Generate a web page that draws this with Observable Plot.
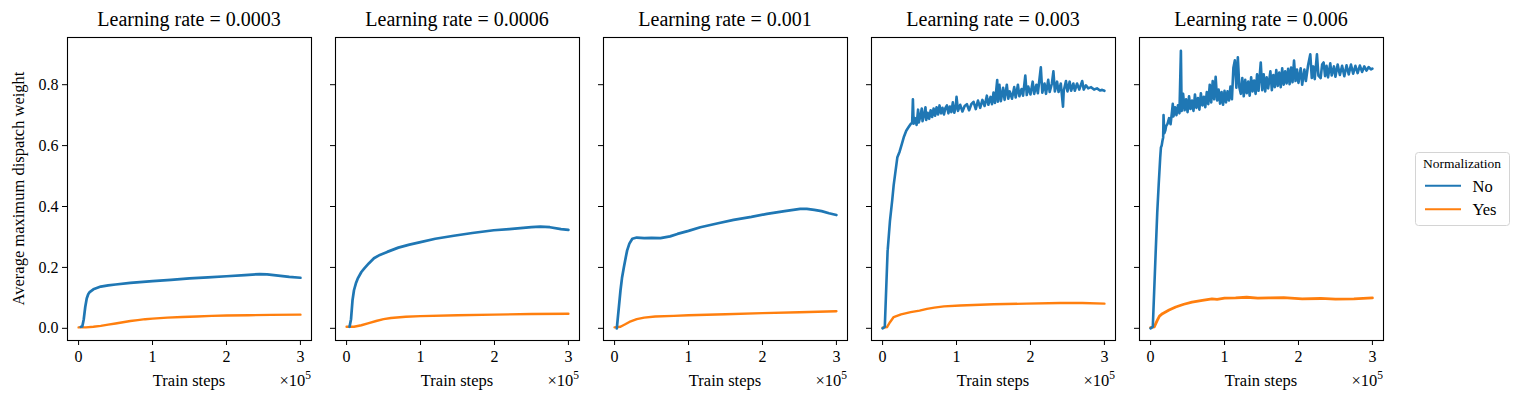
<!DOCTYPE html>
<html><head><meta charset="utf-8">
<script src="https://cdn.jsdelivr.net/npm/d3@7"></script>
<script src="https://cdn.jsdelivr.net/npm/@observablehq/plot@0.6"></script>
<style>
html,body{margin:0;padding:0;background:#fff;}
#wrap{position:relative;width:1522px;height:402px;overflow:hidden;font-family:"Liberation Serif","DejaVu Serif",serif;}
#wrap svg{position:absolute;top:0;}
#wrap svg text{font-family:"Liberation Serif","DejaVu Serif",serif !important;}
</style></head><body><div id="wrap"></div>
<script>
// ---- categories / ticks ----
const learningRates = ["0.0003", "0.0006", "0.001", "0.003", "0.006"];
const normalization = ["No", "Yes"];
const seriesColors = ["#1f77b4", "#ff7f0e"];
const xTicks = [0, 1, 2, 3];
const yTicks = [0, 0.2, 0.4, 0.6, 0.8];
const xLabel = "Train steps";
const yLabel = "Average maximum dispatch weight";

// ---- series: [train steps (x1e5), average max dispatch weight] ----
const no_0003 = [[0.03,0.005],[0.05,0.006],[0.07,0.03],[0.09,0.07],[0.11,0.098],[0.13,0.112],[0.15,0.119],[0.2,0.128],[0.3,0.137],[0.4,0.141],[0.5,0.144],[0.7,0.149],[1.0,0.155],[1.25,0.159],[1.5,0.164],[1.75,0.167],[2.0,0.171],[2.25,0.175],[2.45,0.178],[2.55,0.177],[2.7,0.173],[2.85,0.169],[3.0,0.166]];
const yes_0003 = [[0,0.003],[0.1,0.003],[0.2,0.005],[0.3,0.008],[0.4,0.012],[0.5,0.016],[0.6,0.020],[0.7,0.024],[0.8,0.027],[0.9,0.030],[1.0,0.032],[1.2,0.035],[1.4,0.037],[1.6,0.039],[1.8,0.041],[2.0,0.042],[2.3,0.043],[2.6,0.044],[3.0,0.045]];

const no_0006 = [[0.04,0.005],[0.06,0.03],[0.08,0.092],[0.1,0.125],[0.125,0.147],[0.15,0.163],[0.2,0.185],[0.24,0.197],[0.3,0.213],[0.37,0.23],[0.45,0.241],[0.55,0.251],[0.7,0.265],[0.85,0.275],[1.0,0.283],[1.2,0.294],[1.45,0.304],[1.7,0.313],[1.99,0.322],[2.2,0.326],[2.35,0.329],[2.5,0.332],[2.62,0.334],[2.75,0.332],[2.9,0.326],[3.0,0.323]];
const yes_0006 = [[0,0.005],[0.1,0.005],[0.2,0.01],[0.3,0.017],[0.4,0.024],[0.5,0.03],[0.6,0.034],[0.8,0.038],[1.0,0.040],[1.5,0.043],[2.0,0.045],[2.5,0.047],[3.0,0.048]];

const no_001 = [[0.03,0.0],[0.05,0.05],[0.08,0.125],[0.1,0.165],[0.125,0.2],[0.15,0.232],[0.17,0.256],[0.2,0.278],[0.24,0.294],[0.3,0.298],[0.4,0.296],[0.5,0.297],[0.62,0.296],[0.75,0.302],[0.85,0.31],[1.0,0.32],[1.16,0.332],[1.4,0.345],[1.61,0.356],[1.85,0.366],[2.06,0.376],[2.3,0.385],[2.51,0.392],[2.6,0.392],[2.7,0.389],[2.8,0.385],[2.9,0.378],[3.0,0.372]];
const yes_001 = [[0,0.003],[0.08,0.005],[0.15,0.014],[0.2,0.021],[0.3,0.03],[0.4,0.035],[0.55,0.039],[0.8,0.041],[1.0,0.043],[1.5,0.046],[2.0,0.050],[2.5,0.053],[3.0,0.056]];

const no_003 = [[0,0.0],[0.03,0.005],[0.068,0.256],[0.07,0.26],[0.1,0.354],[0.13,0.42],[0.15,0.47],[0.17,0.507],[0.2,0.562],[0.23,0.58],[0.26,0.605],[0.29,0.63],[0.32,0.649],[0.35,0.66],[0.38,0.671],
[0.40,0.675],[0.41,0.752],[0.42,0.672],[0.44,0.690],[0.46,0.668],[0.48,0.718],[0.49,0.676],[0.51,0.696],[0.53,0.722],[0.54,0.680],[0.56,0.700],[0.58,0.726],[0.59,0.684],[0.61,0.708],[0.63,0.688],[0.65,0.716],[0.67,0.694],[0.69,0.722],[0.71,0.698],[0.73,0.726],[0.75,0.702],[0.77,0.732],[0.79,0.706],[0.81,0.724],[0.83,0.702],[0.85,0.724],[0.87,0.732],[0.89,0.706],[0.91,0.728],[0.93,0.710],[0.95,0.742],[0.97,0.708],[0.99,0.728],[1.00,0.760],[1.02,0.714],[1.05,0.734],[1.08,0.712],[1.11,0.730],[1.14,0.736],[1.17,0.716],[1.20,0.736],[1.23,0.744],[1.26,0.720],[1.29,0.748],[1.32,0.724],[1.35,0.750],[1.38,0.730],[1.41,0.764],[1.43,0.734],[1.46,0.760],[1.48,0.736],[1.50,0.774],[1.52,0.740],[1.55,0.815],[1.56,0.744],[1.58,0.800],[1.60,0.746],[1.63,0.790],[1.65,0.750],[1.68,0.800],[1.70,0.754],[1.72,0.778],[1.75,0.754],[1.78,0.792],[1.80,0.758],[1.83,0.800],[1.85,0.762],[1.88,0.786],[1.90,0.764],[1.93,0.830],[1.95,0.766],[1.97,0.794],[2.00,0.768],[2.03,0.810],[2.05,0.770],[2.08,0.800],[2.10,0.772],[2.14,0.857],[2.16,0.774],[2.19,0.804],[2.21,0.770],[2.24,0.816],[2.26,0.776],[2.29,0.804],[2.31,0.844],[2.33,0.778],[2.36,0.810],[2.38,0.776],[2.41,0.804],[2.44,0.728],[2.45,0.780],[2.48,0.812],[2.50,0.778],[2.53,0.810],[2.55,0.780],[2.58,0.804],[2.60,0.780],[2.63,0.804],[2.66,0.784],[2.70,0.812],[2.72,0.784],[2.75,0.798],[2.78,0.788],[2.82,0.792],[2.86,0.784],[2.90,0.788],[2.94,0.781],[2.97,0.783],[3.00,0.780]];
const yes_003 = [[0,0.002],[0.06,0.004],[0.1,0.02],[0.15,0.037],[0.25,0.046],[0.38,0.053],[0.5,0.058],[0.6,0.064],[0.7,0.068],[0.83,0.072],[1.05,0.075],[1.5,0.079],[1.95,0.081],[2.4,0.083],[2.7,0.083],[3.0,0.081]];

const no_006 = [[0,0.0],[0.03,0.005],[0.068,0.245],[0.09,0.38],[0.11,0.474],[0.13,0.56],[0.14,0.594],[0.15,0.60],[0.16,0.615],[0.17,0.627],[0.175,0.700],[0.185,0.640],[0.20,0.650],[0.21,0.664],[0.23,0.672],[0.25,0.690],[0.27,0.670],[0.29,0.712],[0.30,0.737],[0.31,0.696],[0.33,0.726],[0.35,0.700],[0.37,0.732],[0.39,0.706],[0.41,0.911],[0.42,0.714],[0.44,0.770],[0.46,0.716],[0.48,0.752],[0.50,0.710],[0.52,0.762],[0.54,0.720],[0.56,0.748],[0.58,0.714],[0.60,0.768],[0.62,0.724],[0.64,0.756],[0.66,0.718],[0.68,0.772],[0.70,0.732],[0.72,0.760],[0.74,0.726],[0.76,0.776],[0.78,0.736],[0.80,0.800],[0.82,0.742],[0.84,0.812],[0.86,0.752],[0.88,0.826],[0.90,0.748],[0.92,0.784],[0.94,0.738],[0.96,0.776],[0.98,0.734],[1.00,0.780],[1.02,0.742],[1.04,0.778],[1.06,0.748],[1.08,0.794],[1.10,0.752],[1.12,0.856],[1.14,0.880],[1.16,0.790],[1.18,0.890],[1.20,0.792],[1.22,0.770],[1.24,0.822],[1.26,0.762],[1.28,0.816],[1.30,0.772],[1.32,0.810],[1.34,0.764],[1.36,0.824],[1.38,0.778],[1.40,0.814],[1.42,0.770],[1.44,0.834],[1.46,0.780],[1.49,0.873],[1.51,0.782],[1.53,0.834],[1.55,0.778],[1.57,0.824],[1.59,0.788],[1.62,0.844],[1.64,0.782],[1.66,0.832],[1.68,0.792],[1.70,0.848],[1.72,0.796],[1.74,0.840],[1.76,0.792],[1.78,0.854],[1.80,0.800],[1.82,0.844],[1.84,0.804],[1.86,0.852],[1.88,0.802],[1.90,0.856],[1.92,0.808],[1.94,0.879],[1.96,0.812],[1.98,0.850],[2.00,0.806],[2.03,0.854],[2.05,0.800],[2.08,0.850],[2.10,0.812],[2.13,0.864],[2.16,0.900],[2.18,0.822],[2.20,0.860],[2.22,0.818],[2.25,0.900],[2.27,0.830],[2.30,0.822],[2.32,0.866],[2.34,0.873],[2.36,0.828],[2.38,0.862],[2.40,0.824],[2.43,0.870],[2.45,0.830],[2.48,0.860],[2.50,0.826],[2.53,0.866],[2.56,0.832],[2.59,0.862],[2.62,0.828],[2.65,0.864],[2.68,0.834],[2.71,0.866],[2.74,0.836],[2.77,0.862],[2.80,0.838],[2.83,0.863],[2.86,0.842],[2.89,0.860],[2.92,0.846],[2.95,0.858],[2.98,0.850],[3.00,0.853]];
const yes_006 = [[0,0.002],[0.05,0.005],[0.09,0.026],[0.12,0.04],[0.16,0.048],[0.25,0.06],[0.34,0.07],[0.45,0.079],[0.56,0.086],[0.7,0.092],[0.83,0.097],[0.9,0.095],[1.0,0.099],[1.15,0.1],[1.3,0.102],[1.45,0.099],[1.6,0.1],[1.8,0.101],[2.05,0.097],[2.3,0.098],[2.5,0.096],[2.75,0.097],[3.0,0.1]];

const noSeries = [no_0003, no_0006, no_001, no_003, no_006];
const yesSeries = [yes_0003, yes_0006, yes_001, yes_003, yes_006];

// ---- layout ----
const FONT = "'Liberation Serif', 'DejaVu Serif', serif";
const ML = 67, MR = 12, MT = 37, MB = 62, FW = 244, H = 402, GAP = 268;
const wrap = d3.select("#wrap");

learningRates.forEach((lr, i) => {
  const noRows = noSeries[i].map(([s, w]) => ({step: s, w, norm: "No"}));
  const yesRows = yesSeries[i].map(([s, w]) => ({step: s, w, norm: "Yes"}));
  const noisy = i >= 3;
  const svg = Plot.plot({
    width: ML + FW + MR, height: H,
    marginLeft: ML, marginRight: MR, marginTop: MT, marginBottom: MB,
    style: {background: "transparent", fontFamily: FONT, fontSize: "16px", color: "#000", overflow: "visible"},
    x: {domain: [-0.15, 3.15]},
    y: {domain: [-0.040, 0.955]},
    color: {domain: normalization, range: seriesColors},
    marks: [
      Plot.line(yesRows, {x: "step", y: "w", stroke: "norm", strokeWidth: i === 4 ? 2.8 : 2.4}),
      Plot.line(noRows, {x: "step", y: "w", stroke: "norm", strokeWidth: noisy ? 2.6 : 2.7}),
      Plot.axisX({ticks: xTicks, tickSize: 5, tickPadding: 5, tickFormat: d => String(d), label: null, fontSize: 16}),
      Plot.axisY({ticks: yTicks, tickSize: 5, tickPadding: 4, tickFormat: i === 0 ? d => d.toFixed(1) : () => "", label: null, fontSize: 16}),
      Plot.frame({stroke: "#000", strokeWidth: 1.1})
    ]
  });
  const s = d3.select(svg).style("left", (i * GAP) + "px");
  s.selectAll("text").style("font-family", FONT).style("font-variant", "normal");
  const cx = ML + FW / 2;
  s.append("text").attr("x", cx).attr("y", 26).attr("text-anchor", "middle")
    .style("font-size", "20px").style("font-family", FONT).attr("fill", "#000")
    .text("Learning rate = " + lr);
  s.append("text").attr("x", cx).attr("y", 386).attr("text-anchor", "middle")
    .style("font-size", "16.5px").style("font-family", FONT).attr("fill", "#000")
    .text(xLabel);
  const off = s.append("text").attr("x", ML + FW).attr("y", 386).attr("text-anchor", "end")
    .style("font-size", "16.5px").style("font-family", FONT).attr("fill", "#000");
  off.append("tspan").text("\u00d710");
  off.append("tspan").attr("dy", -7).style("font-size", "11.5px").text("5");
  if (i === 0) {
    s.append("text").attr("transform", "translate(18,188.5) rotate(-90)").attr("text-anchor", "middle")
      .attr("dy", "0.35em").style("font-size", "16.5px").style("font-family", FONT).attr("fill", "#000")
      .text(yLabel);
  }
  wrap.node().appendChild(svg);
});

// ---- legend ----
const lg = wrap.append("svg").attr("width", 1522).attr("height", 402).style("left", "0px").style("pointer-events", "none");
lg.append("rect").attr("x", 1415.5).attr("y", 152.5).attr("width", 94).attr("height", 73).attr("rx", 3)
  .attr("fill", "#fff").attr("stroke", "#d4d4d4");
lg.append("text").attr("x", 1462).attr("y", 168).attr("text-anchor", "middle")
  .style("font-size", "13.5px").style("font-family", FONT).text("Normalization");
normalization.forEach((n, k) => {
  const y = 185.7 + k * 23.6;
  lg.append("line").attr("x1", 1425).attr("x2", 1461).attr("y1", y).attr("y2", y)
    .attr("stroke", seriesColors[k]).attr("stroke-width", 2);
  lg.append("text").attr("x", 1472.5).attr("y", y + 6).style("font-size", "16.5px").style("font-family", FONT).text(n);
});
</script></body></html>
